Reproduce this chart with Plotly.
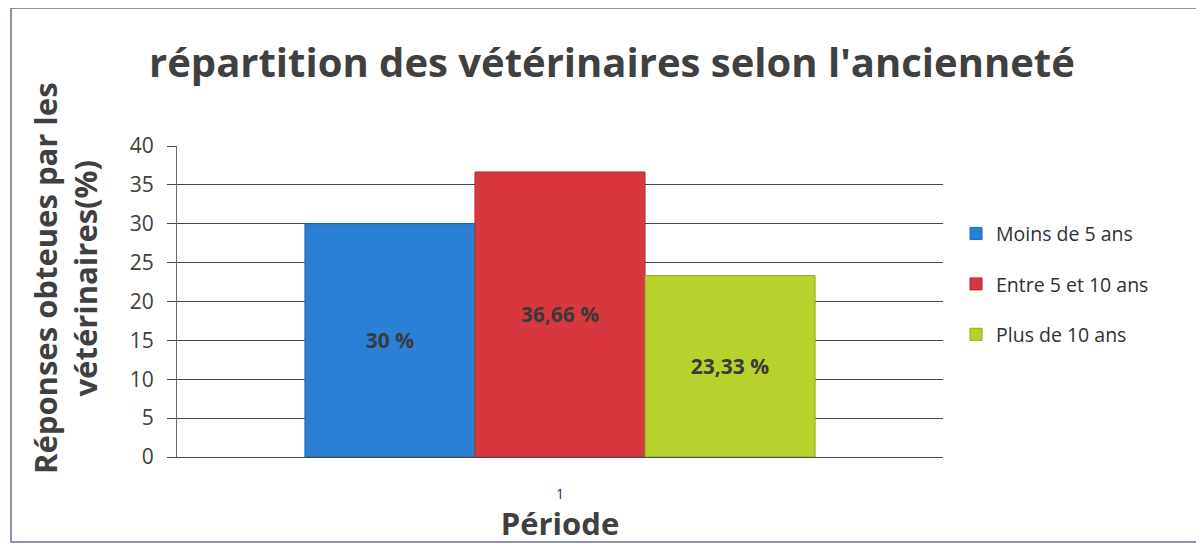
import plotly.graph_objects as go

categories = ["1"]
series_names = ["Moins de 5 ans", "Entre 5 et 10 ans", "Plus de 10 ans"]
series_values = [30, 36.66, 23.33]
value_labels = ["30 %", "36,66 %", "23,33 %"]
colors = ["#2a80d5", "#d8373f", "#b8d12c"]
edge_colors = ["#1f68b4", "#b02a33", "#93a81c"]

# the page body has an 8px margin, so the figure is 8px smaller each way
W, H = 1196, 536
L, R, T, B = 169, 261, 138, 87
pw = W - L - R
ph = H - T - B

fig = go.Figure()
for name, val, lab, c, ec in zip(series_names, series_values, value_labels, colors, edge_colors):
    fig.add_trace(go.Bar(
        x=categories, y=[val], name=name, legendgroup=name,
        marker=dict(color=c, line=dict(color=ec, width=1)),
        text=[lab], textposition="inside", insidetextanchor="middle",
        textfont=dict(family="Open Sans", size=21, color="#3a3a3a", weight="bold"),
        textangle=0,
    ))

fig.add_shape(type="rect", xref="paper", yref="paper",
              x0=(3 - L) / pw, x1=(1192 - L) / pw,
              y0=(T + ph - 534) / ph, y1=(T + ph - 0) / ph,
              line=dict(color="#6a6f8a", width=1.5), fillcolor="rgba(0,0,0,0)", layer="below")

fig.add_annotation(text="<b>Réponses obteues par les<br>vétérinaires(%)</b>",
                   xref="paper", yref="paper", x=(57 - L) / pw, y=(T + ph - 270) / ph,
                   xanchor="center", yanchor="middle", textangle=-90, showarrow=False,
                   font=dict(family="Open Sans", size=31, color="#404040"))

fig.update_layout(
    width=W, height=H,
    margin=dict(l=L, r=R, t=T, b=B),
    paper_bgcolor="white", plot_bgcolor="white",
    barmode="group", bargap=0.334, bargroupgap=0,
    font=dict(family="Open Sans", color="#404040"),
    title=dict(text="<b>répartition des vétérinaires selon l'ancienneté</b>",
               x=0.505, xanchor="center", y=0.897, yanchor="middle",
               font=dict(family="Open Sans", size=40, color="#404040")),
    showlegend=True,
    legend=dict(x=1.017, xanchor="left", y=0.555, yanchor="middle",
                font=dict(family="Open Sans", size=19.5, color="#303030"),
                tracegroupgap=22, itemwidth=30, bgcolor="rgba(0,0,0,0)"),
    uniformtext=dict(mode=False),
)
fig.update_yaxes(range=[0, 40], dtick=5, showgrid=True, gridcolor="#4a4a4a", gridwidth=1,
                 showline=True, linecolor="#6a6a6a", ticks="outside", ticklen=9,
                 tickcolor="#4a4a4a", ticklabelstandoff=9,
                 tickfont=dict(family="Open Sans", size=21, color="#404040"),
                 zeroline=False)
fig.update_xaxes(showline=True, linecolor="#4a4a4a", ticks="", showgrid=False,
                 ticklabelstandoff=24,
                 tickfont=dict(family="Open Sans", size=14, color="#303030"),
                 title=dict(text="<b>Période</b>", font=dict(family="Open Sans", size=31, color="#404040"),
                            standoff=2))

fig.write_html("out.html")
